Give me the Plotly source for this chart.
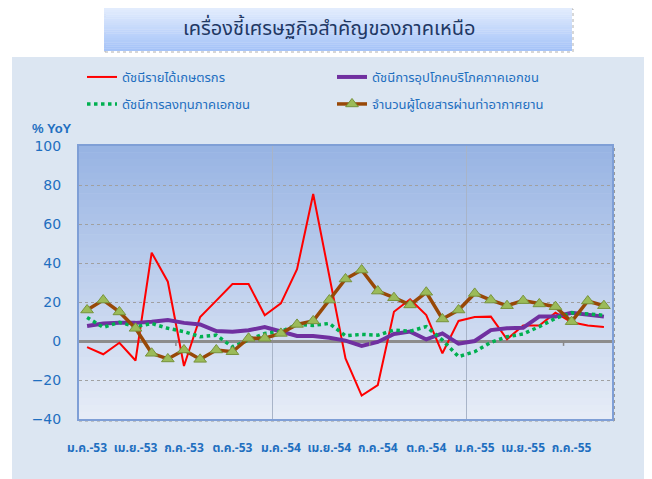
import plotly.graph_objects as go

# ---------------- data ----------------
months = list(range(33))  # ม.ค.-53 ... ก.ย.-55
tick_idx = [0, 3, 6, 9, 12, 15, 18, 21, 24, 27, 30]
tick_labels = ["ม.ค.-53", "เม.ย.-53", "ก.ค.-53", "ต.ค.-53", "ม.ค.-54", "เม.ย.-54",
               "ก.ค.-54", "ต.ค.-54", "ม.ค.-55", "เม.ย.-55", "ก.ค.-55"]
year_breaks = [11.5, 23.5]

farm_income = [-3.1, -6.8, -0.9, -10.0, 45.3, 30.4, -12.8, 12.3, 20.7, 29.2, 29.2,
               13.2, 19.3, 36.8, 75.4, 34.0, -8.9, -28.0, -22.6, 15.0, 21.4, 13.3,
               -6.3, 10.3, 12.3, 12.5, 0.9, 7.9, 7.9, 14.5, 9.6, 7.9, 7.2]
consumption = [7.7, 9.0, 9.3, 9.3, 9.9, 10.8, 9.3, 8.5, 5.1, 4.8, 5.5,
               7.2, 4.9, 2.6, 2.6, 1.7, 0.2, -2.5, -0.5, 3.6, 4.8, 0.8,
               3.9, -1.4, 0.0, 5.6, 6.5, 6.8, 12.6, 12.6, 14.5, 13.7, 12.5]
investment = [12.1, 7.0, 9.6, 7.3, 9.0, 6.5, 4.8, 2.2, 3.0, -3.0, 0.5,
              3.9, 4.8, 8.5, 8.0, 9.0, 2.7, 3.4, 3.0, 5.6, 5.0, 7.4,
              0.5, -8.0, -5.5, -0.7, 2.2, 3.6, 7.4, 11.6, 14.5, 14.0, 13.2]
passengers = [15.9, 21.0, 14.9, 6.5, -6.3, -9.2, -4.6, -9.4, -4.6, -5.5, 1.4,
              1.4, 3.9, 8.5, 10.3, 21.0, 31.8, 36.4, 25.6, 22.2, 18.5, 25.0,
              11.3, 15.9, 24.4, 21.0, 18.1, 20.7, 19.0, 17.6, 9.9, 20.5, 18.1]

names = ["ดัชนีรายได้เกษตรกร", "ดัชนีการอุปโภคบริโภคภาคเอกชน",
         "ดัชนีการลงทุนภาคเอกชน", "จำนวนผู้โดยสารผ่านท่าอากาศยาน"]

# ---------------- layout geometry ----------------
# page coordinates are offset by the 8px default body margin
OFF = 8
W, H = 652, 479
PL, PT, PR, PB = 79, 146, 612, 419          # plot area in page pixels
ML, MT = PL - OFF, PT - OFF
MR, MB = W - (PR - OFF), H - (PB - OFF)
PW = PR - PL
PH = PB - PT


def px_x(p):
    return (p - PL) / PW


def px_y(p):
    return (PB - p) / PH


FONT = "Tahoma, 'Noto Sans Thai', 'Leelawadee UI', sans-serif"
BLUE = "#1f6fc0"

fig = go.Figure()

fig.add_trace(go.Scatter(x=months, y=farm_income, mode="lines", name=names[0],
                         line=dict(color="#ff0000", width=2), legend="legend"))
fig.add_trace(go.Scatter(x=months, y=consumption, mode="lines", name=names[1],
                         line=dict(color="#7030a0", width=4), legend="legend"))
fig.add_trace(go.Scatter(x=months, y=investment, mode="lines", name=names[2],
                         line=dict(color="#00b050", width=3.5, dash="dot"), legend="legend2"))
fig.add_trace(go.Scatter(x=months, y=passengers, mode="lines+markers", name=names[3],
                         line=dict(color="#984807", width=3.5),
                         marker=dict(symbol="triangle-up", size=11, color="#9bbb59",
                                     line=dict(color="#77933c", width=1)),
                         legend="legend2"))
# invisible trace on overlay axis to carry the year separator grid
fig.add_trace(go.Scatter(x=year_breaks, y=[None, None], xaxis="x2", yaxis="y",
                         showlegend=False, hoverinfo="skip", mode="lines"))

shapes = []
# light panel behind chart
shapes.append(dict(type="rect", xref="paper", yref="paper",
                   x0=px_x(12), x1=px_x(700), y0=px_y(520), y1=px_y(57),
                   fillcolor="#dce6f2", line=dict(width=0), layer="below"))
# title box shadow + gradient
shapes.append(dict(type="rect", xref="paper", yref="paper",
                   x0=px_x(105), x1=px_x(573), y0=px_y(52), y1=px_y(9),
                   fillcolor="rgba(0,0,0,0)", line=dict(color="#b0b0b0", width=1, dash="dot"),
                   layer="below"))
nb = 20
top_c = (226, 236, 253)
bot_c = (165, 195, 248)
for k in range(nb):
    t = k / (nb - 1)
    c = tuple(int(round(top_c[j] + (bot_c[j] - top_c[j]) * t)) for j in range(3))
    y_top = 8 + (51 - 8) * k / nb
    y_bot = 8 + (51 - 8) * (k + 1) / nb
    shapes.append(dict(type="rect", xref="paper", yref="paper",
                       x0=px_x(104), x1=px_x(572), y0=px_y(y_bot), y1=px_y(y_top) + 0.001,
                       fillcolor="rgb(%d,%d,%d)" % c, line=dict(width=0), layer="below"))
# plot area gradient
nb = 40
top_c = (152, 180, 227)
bot_c = (230, 236, 247)
for k in range(nb):
    t = k / (nb - 1)
    c = tuple(int(round(top_c[j] + (bot_c[j] - top_c[j]) * t)) for j in range(3))
    shapes.append(dict(type="rect", xref="paper", yref="paper",
                       x0=0, x1=1, y0=1 - (k + 1) / nb, y1=1 - k / nb + 0.002,
                       fillcolor="rgb(%d,%d,%d)" % c, line=dict(width=0), layer="below"))
# shadow on right / bottom side of plot area
shapes.append(dict(type="line", xref="paper", yref="paper",
                   x0=px_x(614), x1=px_x(614), y0=px_y(421), y1=px_y(146),
                   line=dict(color="#9a9a9a", width=2, dash="dot"), layer="below"))
shapes.append(dict(type="line", xref="paper", yref="paper",
                   x0=px_x(79), x1=px_x(614), y0=px_y(421), y1=px_y(421),
                   line=dict(color="#9a9a9a", width=1, dash="dot"), layer="below"))
# small ticks on the zero line
for xv in [5.5, 17.5, 29.5]:
    shapes.append(dict(type="line", xref="x", yref="y", x0=xv, x1=xv, y0=0, y1=-2.5,
                       line=dict(color="#888888", width=1.5), layer="above"))

legend_common = dict(orientation="h", xanchor="left", yanchor="top",
                     bgcolor="rgba(0,0,0,0)", entrywidth=205, entrywidthmode="pixels",
                     itemwidth=30, font=dict(size=13, color=BLUE, family=FONT))

fig.update_layout(
    width=W, height=H,
    margin=dict(l=ML, r=MR, t=MT, b=MB),
    paper_bgcolor="white",
    plot_bgcolor="rgba(0,0,0,0)",
    shapes=shapes,
    font=dict(family=FONT, color=BLUE),
    showlegend=True,
    legend=dict(x=px_x(82), y=px_y(62), **legend_common),
    legend2=dict(x=px_x(82), y=px_y(89), **legend_common),
    xaxis=dict(range=[-0.5, 32.5], tickmode="array", tickvals=tick_idx,
               ticktext=["<b>%s</b>" % t for t in tick_labels],
               showgrid=False, zeroline=False, showline=True, mirror=True,
               linecolor="#7f9fd6", linewidth=2, ticks="",
               tickfont=dict(size=12, color=BLUE, family=FONT),
               ticklabelstandoff=17),
    xaxis2=dict(range=[-0.5, 32.5], overlaying="x", tickmode="array", tickvals=year_breaks,
                showticklabels=False, showgrid=True, gridcolor="#a8b4c8", gridwidth=1,
                zeroline=False, showline=False, ticks=""),
    yaxis=dict(range=[-40, 100], dtick=20, showgrid=True, gridcolor="#a0a0a0",
               griddash="dot", gridwidth=1, zeroline=True, zerolinecolor="#8c8c8c",
               zerolinewidth=2.5, showline=True, mirror=True,
               linecolor="#7f9fd6", linewidth=2, ticks="",
               tickfont=dict(size=14, color=BLUE, family="Arial Black, DejaVu Sans, sans-serif"),
               ticklabelstandoff=13),
    annotations=[
        dict(text="เครื่องชี้เศรษฐกิจสำคัญของภาคเหนือ", xref="paper", yref="paper",
             x=px_x(329), y=px_y(29), xanchor="center", yanchor="middle", showarrow=False,
             font=dict(size=20, color="#1f3864", family=FONT)),
        dict(text="<b>% YoY</b>", xref="paper", yref="paper",
             x=px_x(30), y=px_y(128), xanchor="left", yanchor="middle", showarrow=False,
             font=dict(size=13, color=BLUE, family="Liberation Sans, Arial, sans-serif")),
    ],
)

fig.write_html("out.html")
